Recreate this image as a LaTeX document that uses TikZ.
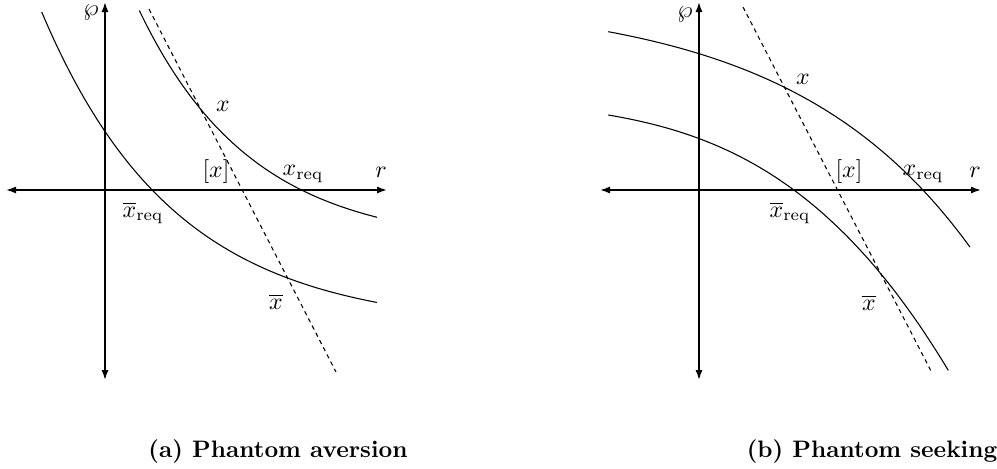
\documentclass[tikz,border=0pt]{standalone}
\usepackage{amsmath}
\usepackage{tikz}
\usetikzlibrary{arrows.meta,positioning,calc}

\begin{document}
\begin{tikzpicture}[x=1.476mm,y=1.476mm,>={Latex[length=4.2pt,width=3pt]},
  ax/.style={<->,line width=0.7pt}, crv/.style={line width=0.45pt,samples=80},
  dsh/.style={line width=0.45pt,dash pattern=on 1.8pt off 1.6pt}, captxt/.style={anchor=base,font=\bfseries}]
  \useasboundingbox (0,0) rectangle (99.7,46.8);
  \coordinate(aW) at (0.6,27.8); \coordinate(aE) at (38.7,27.8);
  \coordinate(aS) at (10.5,8.8); \coordinate(aN) at (10.5,46.6);
  \draw[ax](aW)--(aE); \draw[ax](aS)--(aN);
  \draw[crv] plot[domain=4.17:37.7] (\x,{14+43.2*exp(-0.075*\x)});
  \draw[crv] plot[domain=13.93:37.7] (\x,{22.2+80.8*exp(-0.0885*\x)});
  \coordinate(aD0) at (14.9,45.9); \coordinate(aD1) at (33.6,9.6);
  \draw[dsh](aD0)--(aD1);
  \node(aP) at (9.1,45.5){$\wp$};
  \node(aR) at (38.1,29.6){$r$};
  \node(aX) at (22.3,36.2){$x$};
  \node(aXb) at (21.6,29.6){$[x]$};
  \node(aXr) at (30.3,29.4){$x_{\mathrm{req}}$};
  \node(aBr) at (14.3,25.5){$\overline{x}_{\mathrm{req}}$};
  \node(aB) at (27.6,16.6){$\overline{x}$};
  \node[captxt](aCap) at (27.8,1.1){(a) Phantom aversion};
  \coordinate(bW) at (60.0,27.8); \coordinate(bE) at (98.1,27.8);
  \coordinate(bS) at (69.9,8.8); \coordinate(bN) at (69.9,46.6);
  \draw[ax](bW)--(bE); \draw[ax](bS)--(bN);
  \draw[crv] plot[domain=60.83:97.0] (\x,{47-3.22*exp(0.0553*(\x-60))});
  \draw[crv] plot[domain=0:34] ({60.83+\x},{35.3-0.17*\x-0.007244*\x*\x-0.000293*\x*\x*\x});
  \coordinate(bD0) at (74.3,46.1); \coordinate(bD1) at (93.1,9.7);
  \draw[dsh](bD0)--(bD1);
  \node(bP) at (68.5,45.3){$\wp$};
  \node(bR) at (97.5,29.6){$r$};
  \node(bX) at (80.3,38.9){$x$};
  \node(bXb) at (84.9,29.6){$[x]$};
  \node(bXr) at (92.3,29.4){$x_{\mathrm{req}}$};
  \node(bBr) at (79.0,25.5){$\overline{x}_{\mathrm{req}}$};
  \node(bB) at (86.9,16.5){$\overline{x}$};
  \node[captxt](bCap) at (87.2,1.1){(b) Phantom seeking};
\end{tikzpicture}
\end{document}
